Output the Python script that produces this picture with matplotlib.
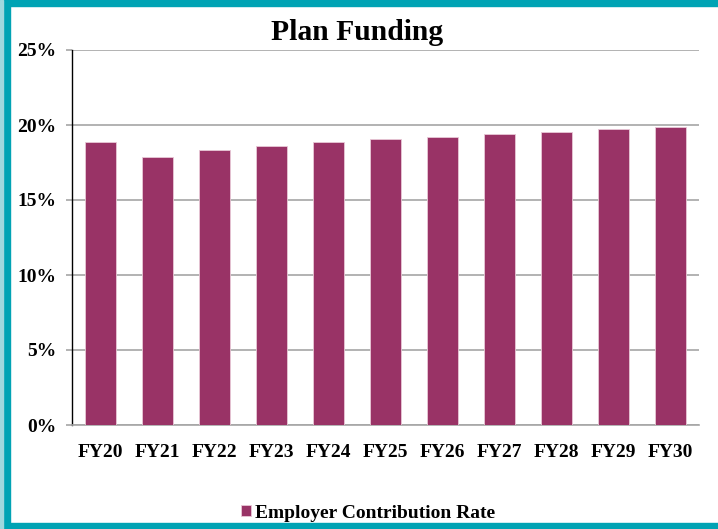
import matplotlib
matplotlib.use("Agg")
import matplotlib.pyplot as plt
from matplotlib.patches import Rectangle
from matplotlib.ticker import FuncFormatter, MultipleLocator

categories = ["FY20", "FY21", "FY22", "FY23", "FY24", "FY25", "FY26", "FY27", "FY28", "FY29", "FY30"]
employer_rate = [18.87, 17.85, 18.36, 18.60, 18.85, 19.05, 19.23, 19.43, 19.56, 19.71, 19.85]
series_name = "Employer Contribution Rate"
title = "Plan Funding"

plt.rcParams['font.family'] = ['Liberation Serif', 'DejaVu Serif']

W, H = 718, 529
fig = plt.figure(figsize=(W / 100, H / 100), dpi=100)
fig.patch.set_facecolor("white")

ax = fig.add_axes([72 / W, 1 - 425 / H, (699 - 72) / W, (425 - 50) / H])
x = range(len(categories))
bars = ax.bar(x, employer_rate, width=0.53, color="#993366", edgecolor="#e8c8d6",
              linewidth=0.6, label=series_name, zorder=3)

ax.set_xlim(-0.5, len(categories) - 0.5)
ax.set_ylim(0, 25)
ax.yaxis.set_major_locator(MultipleLocator(5))
ax.yaxis.set_major_formatter(FuncFormatter(lambda v, p: f"{v:.0f}%"))
ax.set_xticks(list(x))
ax.set_xticklabels(categories)

ax.grid(axis="y", color="#a6a6a6", linewidth=1.2, zorder=0)
for s in ["top", "right"]:
    ax.spines[s].set_visible(False)
ax.spines["left"].set_color("black")
ax.spines["left"].set_linewidth(1.0)
ax.spines["bottom"].set_color("#a6a6a6")
ax.spines["bottom"].set_linewidth(1.2)
ax.tick_params(axis="y", length=4, color="#a6a6a6", width=1.2, pad=7,
               labelsize=14)
ax.tick_params(axis="x", length=0, pad=14, labelsize=14)
for lab in ax.get_xticklabels() + ax.get_yticklabels():
    lab.set_fontweight("bold")

fig.text(357 / W, 1 - 32 / H, title, ha="center", va="center",
         fontsize=21.3, fontweight="bold")

leg = fig.legend(handles=[bars], labels=[series_name], loc="center",
                 bbox_to_anchor=(368 / W, 1 - 513 / H), frameon=False,
                 prop={"weight": "bold", "size": 14},
                 handlelength=0.55, handleheight=0.55, handletextpad=0.2)

teal = "#00A3B4"
fig.patches.append(Rectangle((0, 1 - 6 / H), 1, 6 / H, transform=fig.transFigure,
                             color=teal, zorder=10))
fig.patches.append(Rectangle((0, 0), 1, 6 / H, transform=fig.transFigure,
                             color=teal, zorder=10))
fig.patches.append(Rectangle((3 / W, 0), 7 / W, 1, transform=fig.transFigure,
                             color=teal, zorder=10))
fig.patches.append(Rectangle((0, 0), 3 / W, 1, transform=fig.transFigure,
                             color="#9fd8de", zorder=10))

fig.savefig("out.png", dpi=100)
